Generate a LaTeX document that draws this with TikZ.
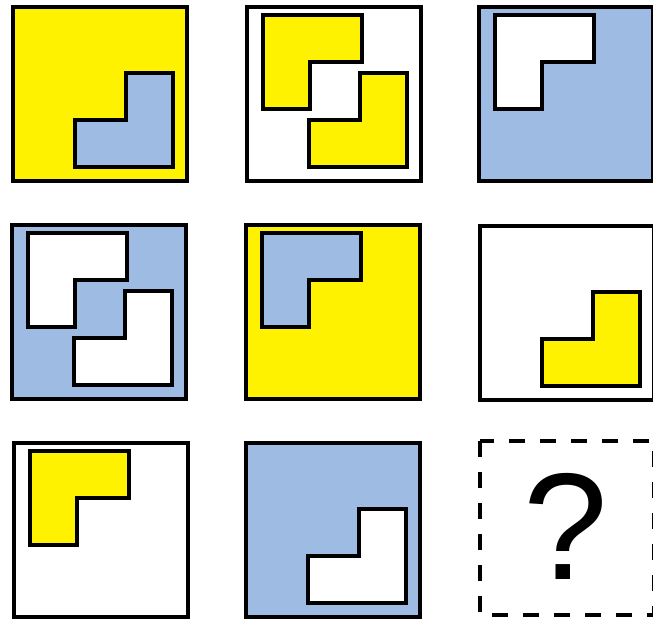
\documentclass[tikz,border=0pt]{standalone}
\usepackage{fontspec}
\setsansfont{Liberation Sans}
\definecolor{puzyellow}{HTML}{FFF200}
\definecolor{puzblue}{HTML}{9DBBE3}

\tikzset{
    upperL/.pic={\path[pic actions] (16,8) -- (115,8) -- (115,55) -- (63,55) -- (63,102) -- (16,102) -- cycle;},
    lowerL/.pic={\path[pic actions] (62,160) -- (160,160) -- (160,66) -- (113,66) -- (113,113) -- (62,113) -- cycle;}
}

\begin{document}
\begin{tikzpicture}[
    x=1pt, y=-1pt,
    panel/.style={draw=black, line width=4pt},
    piece/.style={draw=black, line width=4pt}
]
\useasboundingbox (0,0) rectangle (653,620);
% row 1
\draw[panel, fill=puzyellow] (13,7) rectangle ++(174,174);
\pic[piece, fill=puzblue] at (13,7) {lowerL};
\draw[panel, fill=white] (247,7) rectangle ++(174,174);
\pic[piece, fill=puzyellow] at (247,7) {upperL};
\pic[piece, fill=puzyellow] at (247,7) {lowerL};
\draw[panel, fill=puzblue] (479,7) rectangle ++(174,174);
\pic[piece, fill=white] at (479,7) {upperL};
% row 2
\draw[panel, fill=puzblue] (12,225) rectangle ++(174,174);
\pic[piece, fill=white] at (12,225) {upperL};
\pic[piece, fill=white] at (12,225) {lowerL};
\draw[panel, fill=puzyellow] (246,225) rectangle ++(174,174);
\pic[piece, fill=puzblue] at (246,225) {upperL};
\draw[panel, fill=white] (480,226) rectangle ++(174,174);
\pic[piece, fill=puzyellow] at (480,226) {lowerL};
% row 3
\draw[panel, fill=white] (14,443) rectangle ++(174,174);
\pic[piece, fill=puzyellow] at (14,443) {upperL};
\draw[panel, fill=puzblue] (246,443) rectangle ++(174,174);
\pic[piece, fill=white] at (246,443) {lowerL};
\draw[panel, dash pattern=on 16pt off 15pt] (480,441) rectangle ++(174,174);
\node[font=\sffamily\fontsize{152}{152}\selectfont, inner sep=0pt] (query) at (566,526) {?};
\end{tikzpicture}
\end{document}
